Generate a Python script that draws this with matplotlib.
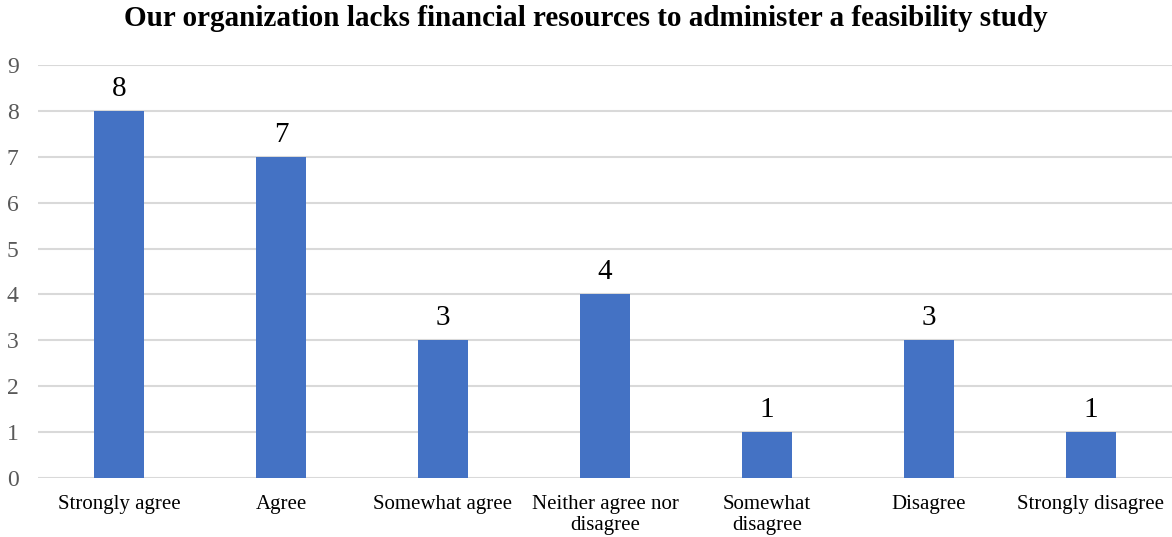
import matplotlib.pyplot as plt

categories = ["Strongly agree", "Agree", "Somewhat agree", "Neither agree nor\ndisagree",
              "Somewhat\ndisagree", "Disagree", "Strongly disagree"]
counts = [8, 7, 3, 4, 1, 3, 1]
y_ticks = list(range(0, 10))

plt.rcParams['font.family'] = ['Liberation Serif', 'DejaVu Serif']

fig = plt.figure(figsize=(11.72, 5.37), dpi=100)
ax = fig.add_axes([0.0324, 0.1099, 0.9676, 0.7691])

x = range(len(categories))
bars = ax.bar(x, counts, width=0.31, color="#4472C4", zorder=3)
for b, v in zip(bars, counts):
    ax.text(b.get_x() + b.get_width() / 2, v + 0.2, str(v), ha="center", va="bottom",
            fontsize=21, color="black")

ax.set_xlim(-0.5, len(categories) - 0.5)
ax.set_ylim(0, 9)
ax.set_yticks(y_ticks)
ax.set_xticks(list(x))
ax.set_xticklabels(categories, fontsize=15, linespacing=1.15)
ax.tick_params(axis="y", labelsize=17, labelcolor="#595959", length=0, pad=14)
ax.tick_params(axis="x", length=0, pad=12)
ax.grid(axis="y", color="#d9d9d9", linewidth=1.5, zorder=0)
for s in ax.spines.values():
    s.set_visible(False)

fig.suptitle("Our organization lacks financial resources to administer a feasibility study",
             fontsize=21, fontweight="bold", x=0.5, y=0.99)

fig.savefig("out.png", dpi=100)
